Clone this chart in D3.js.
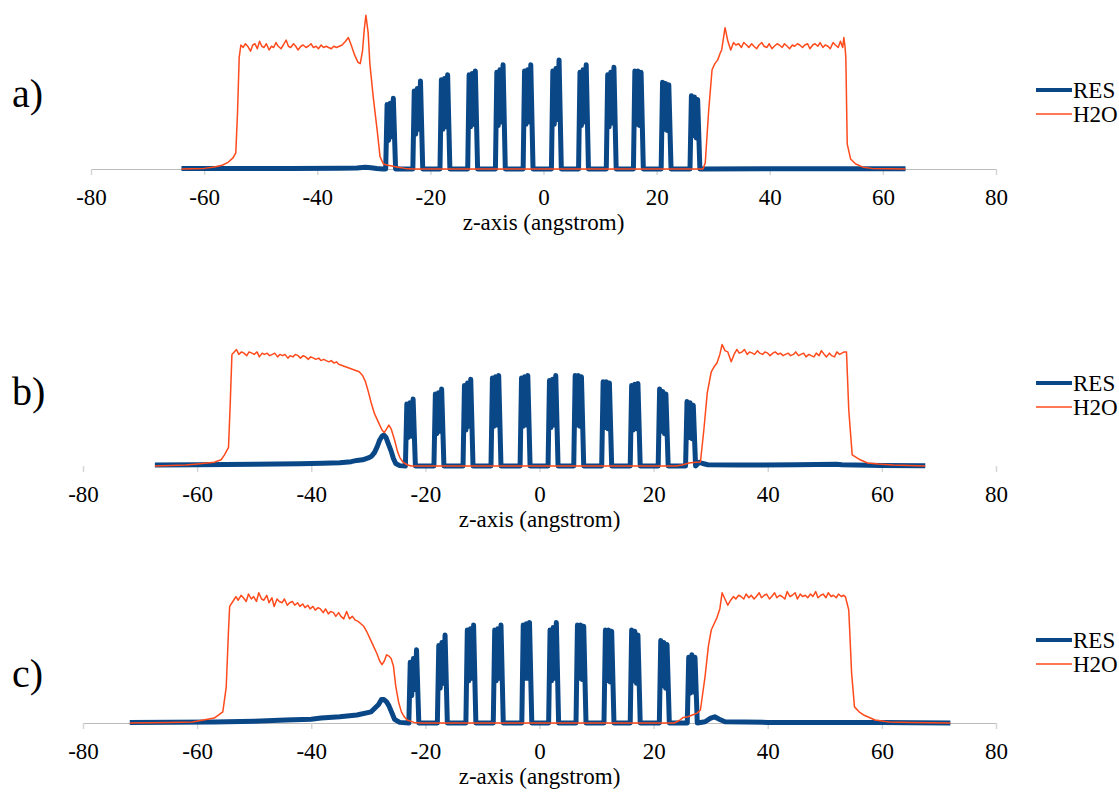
<!DOCTYPE html>
<html>
<head>
<meta charset="utf-8">
<script src="https://cdn.jsdelivr.net/npm/d3@7"></script>
<style>
    body { margin: 0; background: #ffffff; }
    svg text { fill: #000000; }
</style>
</head>
<body>
<div id="chart"></div>
<script>
// Tick values and labels
const zTicks = [-80, -60, -40, -20, 0, 20, 40, 60, 80];
const seriesNames = ['RES', 'H2O'];
const panelNames = ['a)', 'b)', 'c)'];
const axisTitle = 'z-axis (angstrom)';
const serifFont = 'Liberation Serif, serif';

// Density profiles: [z (angstrom), relative density]
// a)
const resA = [
    [-64, 0.004], [-45, 0.004], [-36, 0.006], [-33, 0.008], [-31.5, 0.014], [-30.5, 0.01], [-29.5, 0.004], [-28.4, 0],
    [-27.9, 0], [-27.65, 0.52], [-27.4, 0.23], [-27.1, 0.53], [-26.8, 0.26], [-26.55, 0.57], [-26.15, 0],
    [-23.1, 0], [-22.85, 0.63], [-22.6, 0.28], [-22.3, 0.65], [-22.0, 0.32], [-21.75, 0.71], [-21.35, 0],
    [-18.3, 0], [-18.05, 0.72], [-17.8, 0.32], [-17.5, 0.73], [-17.2, 0.34], [-16.95, 0.76], [-16.55, 0],
    [-13.4, 0], [-13.15, 0.76], [-12.9, 0.34], [-12.6, 0.77], [-12.3, 0.36], [-12.05, 0.79], [-11.65, 0],
    [-8.5, 0], [-8.25, 0.78], [-8.0, 0.35], [-7.7, 0.80], [-7.4, 0.38], [-7.15, 0.84], [-6.75, 0],
    [-3.6, 0], [-3.35, 0.79], [-3.1, 0.36], [-2.8, 0.80], [-2.5, 0.38], [-2.25, 0.84], [-1.85, 0],
    [1.4, 0], [1.65, 0.79], [1.9, 0.36], [2.2, 0.81], [2.5, 0.40], [2.75, 0.88], [3.15, 0],
    [6.2, 0], [6.45, 0.78], [6.7, 0.35], [7.0, 0.80], [7.3, 0.38], [7.55, 0.84], [7.95, 0],
    [11.1, 0], [11.35, 0.76], [11.6, 0.34], [11.9, 0.78], [12.2, 0.37], [12.45, 0.82], [12.85, 0],
    [15.9, 0], [16.15, 0.79], [16.4, 0.36], [16.7, 0.79], [17.0, 0.35], [17.25, 0.78], [17.65, 0],
    [20.8, 0], [21.05, 0.70], [21.3, 0.32], [21.6, 0.69], [21.9, 0.31], [22.15, 0.68], [22.55, 0],
    [25.9, 0], [26.15, 0.59], [26.4, 0.27], [26.7, 0.58], [27.0, 0.25], [27.25, 0.56], [27.65, 0],
    [40, 0.003], [64, 0.003]
];
const h2oA = [
    [-64, 0], [-60, 0.005], [-58.2, 0.016], [-56.8, 0.03], [-55.7, 0.056], [-54.9, 0.09], [-54.4, 0.13], [-54.1, 0.45], [-53.8, 0.9], [-53.5, 1.0],
    [-53.1, 0.98], [-52.7, 1.01], [-52.3, 0.99], [-51.8, 0.95], [-51.4, 1.00], [-51.0, 1.01], [-50.6, 0.97], [-50.2, 1.03], [-49.8, 0.99], [-49.4, 0.98],
    [-49.0, 1.01], [-48.5, 0.96], [-48.1, 0.99], [-47.7, 0.98], [-47.3, 1.02], [-46.9, 0.99], [-46.4, 0.97], [-46.0, 1.00], [-45.5, 1.04], [-45.1, 0.99],
    [-44.7, 0.98], [-44.2, 1.01], [-43.8, 0.99], [-43.4, 0.96], [-42.9, 0.99], [-42.5, 1.00], [-42.0, 0.98], [-41.6, 0.99], [-41.1, 1.01], [-40.7, 0.98],
    [-40.2, 0.99], [-39.8, 0.97], [-39.3, 1.00], [-38.9, 0.98], [-38.4, 0.99], [-38.0, 0.98], [-37.5, 0.97], [-37.1, 0.99], [-36.6, 0.98], [-36.1, 0.99],
    [-35.6, 1.00], [-35.0, 1.03], [-34.5, 1.06], [-34.0, 1.00], [-33.4, 0.92], [-32.8, 0.86], [-32.4, 0.85], [-32.0, 0.95], [-31.7, 1.12], [-31.4, 1.24],
    [-31.0, 1.10], [-30.7, 0.85], [-30.1, 0.58], [-29.4, 0.31], [-28.9, 0.10], [-28.3, 0.04], [-27.5, 0.03], [-25.7, 0.015], [-24.5, 0.005], [-23.2, 0],
    [28.2, 0], [28.6, 0.05], [29.2, 0.47], [29.8, 0.80], [30.3, 0.85], [30.8, 0.88], [31.2, 0.93], [31.5, 0.96], [32.1, 1.14], [32.6, 1.03],
    [33.1, 0.96], [33.6, 1.02], [34.0, 1.00], [34.5, 1.01], [35.0, 0.98], [35.4, 1.02], [35.9, 1.00], [36.3, 0.98], [36.8, 1.01], [37.2, 0.99],
    [37.7, 0.97], [38.1, 1.00], [38.6, 1.02], [39.0, 0.99], [39.5, 0.98], [39.9, 1.01], [40.4, 0.97], [40.8, 0.99], [41.3, 1.01], [41.7, 1.00],
    [42.2, 0.98], [42.6, 1.01], [43.1, 0.99], [43.5, 0.97], [44.0, 1.00], [44.4, 0.99], [44.9, 1.01], [45.3, 1.00], [45.8, 0.98], [46.2, 1.00],
    [46.7, 1.01], [47.1, 0.97], [47.6, 1.00], [48.0, 1.01], [48.5, 0.99], [48.9, 1.02], [49.4, 0.98], [49.8, 1.00], [50.3, 0.99], [50.7, 0.97],
    [51.2, 1.02], [51.6, 1.00], [52.1, 0.98], [52.5, 1.03], [52.9, 0.98], [53.1, 1.06], [53.3, 0.99], [53.45, 0.9], [53.7, 0.2], [54.3, 0.08],
    [55.2, 0.04], [56.5, 0.015], [58, 0.005], [64, 0]
];

// b)
const resB = [
    [-67.4, 0.008], [-60, 0.01], [-50, 0.014], [-42, 0.018], [-38, 0.022], [-35, 0.026], [-33, 0.035], [-32, 0.045], [-31, 0.05], [-30.0, 0.065],
    [-29.4, 0.08], [-28.9, 0.11], [-28.4, 0.16], [-28.0, 0.21], [-27.6, 0.24], [-27.3, 0.25], [-26.9, 0.23], [-26.5, 0.18], [-26.0, 0.12], [-25.6, 0.06],
    [-25.2, 0.02], [-24.5, 0.003],
    [-23.5, 0], [-23.25, 0.50], [-23.0, 0.23], [-22.7, 0.51], [-22.4, 0.24], [-22.15, 0.54], [-21.75, 0],
    [-18.5, 0], [-18.25, 0.58], [-18.0, 0.26], [-17.7, 0.59], [-17.4, 0.28], [-17.15, 0.62], [-16.75, 0],
    [-13.4, 0], [-13.15, 0.65], [-12.9, 0.29], [-12.6, 0.67], [-12.3, 0.32], [-12.05, 0.70], [-11.65, 0],
    [-8.5, 0], [-8.25, 0.71], [-8.0, 0.32], [-7.7, 0.72], [-7.4, 0.33], [-7.15, 0.73], [-6.75, 0],
    [-3.4, 0], [-3.15, 0.71], [-2.9, 0.32], [-2.6, 0.72], [-2.3, 0.33], [-2.05, 0.73], [-1.65, 0],
    [1.5, 0], [1.75, 0.69], [2.0, 0.31], [2.3, 0.70], [2.6, 0.33], [2.85, 0.73], [3.25, 0],
    [6.0, 0], [6.25, 0.73], [6.5, 0.33], [6.8, 0.73], [7.1, 0.32], [7.35, 0.72], [7.75, 0],
    [10.9, 0], [11.15, 0.68], [11.4, 0.31], [11.7, 0.68], [12.0, 0.30], [12.25, 0.67], [12.65, 0],
    [15.9, 0], [16.15, 0.65], [16.4, 0.29], [16.7, 0.66], [17.0, 0.30], [17.25, 0.665], [17.65, 0],
    [20.8, 0], [21.05, 0.62], [21.3, 0.28], [21.6, 0.60], [21.9, 0.26], [22.15, 0.58], [22.55, 0],
    [25.6, 0], [25.85, 0.52], [26.1, 0.23], [26.4, 0.51], [26.7, 0.22], [26.95, 0.49], [27.35, 0],
    [28.0, 0.03], [28.6, 0.02], [29.5, 0.01], [35, 0.008], [45, 0.01], [52, 0.015], [53, 0.01], [60, 0.005], [67.6, 0.003]
];
const h2oB = [
    [-67.4, 0], [-62, 0.008], [-59.9, 0.016], [-57, 0.03], [-55.8, 0.05], [-55.2, 0.09], [-54.5, 0.15], [-54.2, 0.5], [-53.9, 0.9], [-53.5, 0.92],
    [-53.1, 0.94], [-52.7, 0.90], [-52.2, 0.92], [-51.8, 0.91], [-51.3, 0.89], [-50.9, 0.92], [-50.4, 0.91], [-50.0, 0.90], [-49.5, 0.92], [-49.1, 0.88],
    [-48.6, 0.91], [-48.2, 0.90], [-47.7, 0.91], [-47.3, 0.89], [-46.8, 0.90], [-46.4, 0.91], [-45.9, 0.88], [-45.5, 0.90], [-45.0, 0.89], [-44.6, 0.90],
    [-44.1, 0.87], [-43.7, 0.89], [-43.2, 0.88], [-42.8, 0.90], [-42.3, 0.89], [-41.9, 0.87], [-41.4, 0.89], [-41.0, 0.88], [-40.5, 0.86], [-40.1, 0.88],
    [-39.6, 0.87], [-39.2, 0.86], [-38.7, 0.87], [-38.3, 0.85], [-37.8, 0.86], [-37.4, 0.85], [-36.9, 0.84], [-36.5, 0.85], [-36.0, 0.83], [-35.6, 0.84],
    [-35.2, 0.82], [-34.6, 0.81], [-34.0, 0.80], [-33.4, 0.79], [-32.8, 0.78], [-32.2, 0.77], [-31.6, 0.76], [-31.0, 0.73], [-30.5, 0.68], [-30.0, 0.60],
    [-29.5, 0.51], [-28.9, 0.42], [-28.2, 0.35], [-27.6, 0.29], [-27.2, 0.27], [-26.8, 0.30], [-26.4, 0.33], [-26.0, 0.30], [-25.4, 0.21], [-24.9, 0.12],
    [-24.5, 0.07], [-23.9, 0.03], [-23.2, 0.01], [-22.5, 0],
    [23.9, 0], [25, 0.008], [26.2, 0.024], [27.4, 0.03], [28.2, 0.032], [28.8, 0.29], [29.4, 0.59], [30.1, 0.76], [30.6, 0.80], [31.1, 0.83],
    [31.6, 0.90], [32.0, 0.98], [32.5, 0.93], [33.0, 0.92], [33.6, 0.84], [34.1, 0.90], [34.6, 0.94], [35.0, 0.91], [35.5, 0.92], [35.9, 0.94],
    [36.4, 0.90], [36.8, 0.92], [37.3, 0.91], [37.7, 0.90], [38.2, 0.93], [38.6, 0.91], [39.1, 0.90], [39.5, 0.92], [40.0, 0.91], [40.4, 0.89],
    [40.9, 0.91], [41.3, 0.92], [41.8, 0.90], [42.2, 0.91], [42.7, 0.89], [43.1, 0.90], [43.6, 0.91], [44.0, 0.89], [44.5, 0.90], [44.9, 0.92],
    [45.4, 0.89], [45.8, 0.90], [46.3, 0.91], [46.7, 0.88], [47.2, 0.90], [47.6, 0.89], [48.1, 0.88], [48.5, 0.91], [49.0, 0.89], [49.4, 0.93],
    [49.9, 0.90], [50.3, 0.88], [50.8, 0.91], [51.2, 0.89], [51.7, 0.88], [52.1, 0.92], [52.6, 0.90], [53.0, 0.91], [53.4, 0.92], [53.8, 0.92],
    [54.2, 0.45], [54.8, 0.09], [56.2, 0.05], [57.5, 0.024], [59.4, 0.016], [62, 0.008], [67.6, 0]
];

// c)
const resC = [
    [-71.8, 0.005], [-57, 0.008], [-50, 0.015], [-44.5, 0.025], [-40, 0.03], [-38.3, 0.04], [-35, 0.05], [-32, 0.065], [-29.5, 0.09], [-28.2, 0.15],
    [-27.7, 0.19], [-27.3, 0.19], [-26.8, 0.17], [-26.4, 0.14], [-25.4, 0.03], [-24.5, 0.005],
    [-22.9, 0], [-22.65, 0.49], [-22.4, 0.22], [-22.1, 0.52], [-21.8, 0.27], [-21.55, 0.59], [-21.15, 0],
    [-17.9, 0], [-17.65, 0.625], [-17.4, 0.28], [-17.1, 0.65], [-16.8, 0.32], [-16.55, 0.71], [-16.15, 0],
    [-12.9, 0], [-12.65, 0.75], [-12.4, 0.34], [-12.1, 0.76], [-11.8, 0.36], [-11.55, 0.79], [-11.15, 0],
    [-8.1, 0], [-7.85, 0.75], [-7.6, 0.34], [-7.3, 0.76], [-7.0, 0.36], [-6.75, 0.79], [-6.35, 0],
    [-3.1, 0], [-2.85, 0.79], [-2.6, 0.36], [-2.3, 0.80], [-2.0, 0.36], [-1.75, 0.81], [-1.35, 0],
    [1.6, 0], [1.85, 0.75], [2.1, 0.34], [2.4, 0.77], [2.7, 0.36], [2.95, 0.81], [3.35, 0],
    [6.4, 0], [6.65, 0.79], [6.9, 0.36], [7.2, 0.79], [7.5, 0.35], [7.75, 0.78], [8.15, 0],
    [11.3, 0], [11.55, 0.75], [11.8, 0.34], [12.1, 0.75], [12.4, 0.33], [12.65, 0.74], [13.05, 0],
    [15.9, 0], [16.15, 0.75], [16.4, 0.34], [16.7, 0.74], [17.0, 0.32], [17.25, 0.71], [17.65, 0],
    [21.0, 0], [21.25, 0.665], [21.5, 0.30], [21.8, 0.65], [22.1, 0.28], [22.35, 0.633], [22.75, 0],
    [25.9, 0], [26.15, 0.53], [26.4, 0.24], [26.7, 0.55], [27.0, 0.25], [27.25, 0.53], [27.65, 0],
    [29.0, 0.01], [30.0, 0.04], [30.7, 0.05], [31.5, 0.03], [32.5, 0.01], [40, 0.005], [60, 0.005], [72, 0]
];
const h2oC = [
    [-71.8, 0], [-65, 0.005], [-60.8, 0.008], [-57, 0.04], [-55.5, 0.09], [-54.9, 0.29], [-54.5, 0.75], [-54.3, 0.94], [-53.6, 0.99],
    [-53.2, 1.02], [-52.8, 0.99], [-52.3, 1.03], [-51.9, 1.01], [-51.4, 0.98], [-51.0, 1.04], [-50.5, 1.00], [-50.1, 1.02], [-49.6, 0.98], [-49.2, 1.05],
    [-48.7, 1.00], [-48.3, 0.99], [-47.8, 1.03], [-47.4, 0.97], [-46.9, 1.01], [-46.5, 0.94], [-46.0, 1.00], [-45.6, 0.98], [-45.1, 0.97], [-44.7, 1.00],
    [-44.2, 0.95], [-43.8, 0.97], [-43.3, 0.98], [-42.9, 0.95], [-42.4, 0.97], [-42.0, 0.94], [-41.5, 0.96], [-41.1, 0.93], [-40.6, 0.95], [-40.2, 0.92],
    [-39.7, 0.94], [-39.3, 0.91], [-38.8, 0.93], [-38.4, 0.92], [-37.9, 0.89], [-37.5, 0.92], [-37.0, 0.88], [-36.6, 0.90], [-36.1, 0.89], [-35.7, 0.86],
    [-35.2, 0.89], [-34.8, 0.86], [-34.3, 0.84], [-33.8, 0.90], [-33.3, 0.84], [-32.8, 0.86], [-32.3, 0.83], [-31.8, 0.82], [-31.3, 0.80], [-30.8, 0.78],
    [-30.2, 0.73], [-29.6, 0.67], [-29.0, 0.61], [-28.5, 0.56], [-28.0, 0.50], [-27.6, 0.47], [-27.2, 0.50], [-26.8, 0.55], [-26.4, 0.54], [-26.0, 0.52],
    [-25.6, 0.46], [-25.2, 0.30], [-24.7, 0.17], [-24.2, 0.09], [-23.7, 0.05], [-23.2, 0.024], [-22.0, 0.005], [-20.8, 0],
    [23.6, 0], [24.5, 0.02], [25.2, 0.045], [26.0, 0.05], [26.8, 0.065], [27.6, 0.08], [28.2, 0.105], [29.0, 0.37], [29.6, 0.62], [30.1, 0.75],
    [30.6, 0.80], [31.1, 0.85], [31.6, 0.92], [32.0, 1.05], [32.5, 1.00], [33.0, 0.95], [33.5, 0.99], [34.0, 1.02], [34.4, 1.00], [34.9, 1.03],
    [35.3, 1.02], [35.8, 1.00], [36.2, 1.04], [36.7, 1.01], [37.1, 1.03], [37.6, 1.00], [38.0, 1.02], [38.5, 1.05], [38.9, 1.01], [39.4, 1.03],
    [39.8, 1.04], [40.3, 1.00], [40.7, 1.02], [41.2, 1.05], [41.6, 1.01], [42.1, 1.03], [42.5, 1.02], [43.0, 1.00], [43.4, 1.06], [43.9, 1.02],
    [44.3, 1.03], [44.8, 1.05], [45.2, 1.00], [45.7, 1.04], [46.1, 1.02], [46.6, 1.03], [47.0, 1.01], [47.5, 1.04], [47.9, 1.02], [48.4, 1.06],
    [48.8, 1.01], [49.3, 1.03], [49.7, 1.04], [50.2, 1.01], [50.6, 1.05], [51.1, 1.02], [51.5, 1.03], [52.0, 1.01], [52.4, 1.04], [52.9, 1.02],
    [53.3, 1.03], [53.6, 1.02], [54.2, 0.91], [54.7, 0.4], [55.2, 0.13], [56.0, 0.09], [56.8, 0.065], [58.8, 0.024], [61.3, 0.008], [65, 0.005],
    [72, 0]
];

// Colors
const resColor = '#0a4787';
const h2oColor = '#ff4a1c';

// Frame
const width = 1119;
const height = 793;
const pxPerUnit = 124;

const panels = [
    { name: panelNames[0], res: resA, h2o: h2oA, left: 91, right: 996, base: 169, axisLine: true, labelY: 107, legendY: 90 },
    { name: panelNames[1], res: resB, h2o: h2oB, left: 83, right: 996, base: 466, axisLine: false, labelY: 405, legendY: 383 },
    { name: panelNames[2], res: resC, h2o: h2oC, left: 83, right: 996, base: 723, axisLine: true, labelY: 687, legendY: 640 }
];

const svg = d3.select('#chart')
    .append('svg')
    .attr('width', width)
    .attr('height', height);

panels.forEach(p => {
    const g = svg.append('g');

    // Scales
    const x = d3.scaleLinear()
        .domain([zTicks[0], zTicks[zTicks.length - 1]])
        .range([p.left, p.right]);

    const y = d3.scaleLinear()
        .domain([0, 1])
        .range([p.base, p.base - pxPerUnit]);

    // x axis
    const xAxis = d3.axisBottom(x)
        .tickValues(zTicks)
        .tickSize(6)
        .tickSizeOuter(0)
        .tickFormat(d => String(d));

    const xAxisGroup = g.append('g')
        .attr('transform', `translate(0, ${p.base})`)
        .call(xAxis);

    xAxisGroup.select('.domain')
        .attr('stroke', p.axisLine ? '#bcbcbc' : 'none');
    xAxisGroup.selectAll('.tick line')
        .attr('stroke', '#d6d6d6')
        .attr('stroke-width', 1.5);
    xAxisGroup.selectAll('.tick text')
        .attr('y', 36)
        .attr('dy', null)
        .style('font-family', serifFont)
        .style('font-size', '23px')
        .attr('fill', '#000');

    // Axis title
    g.append('text')
        .attr('x', (p.left + p.right) / 2)
        .attr('y', p.base + 61)
        .attr('text-anchor', 'middle')
        .style('font-family', serifFont)
        .style('font-size', '23px')
        .text(axisTitle);

    // Lines
    const line = d3.line()
        .x(d => x(d[0]))
        .y(d => y(d[1]));

    g.append('path')
        .datum(p.res)
        .attr('fill', 'none')
        .attr('stroke', resColor)
        .attr('stroke-width', 5)
        .attr('stroke-linejoin', 'round')
        .attr('d', line);

    g.append('path')
        .datum(p.h2o)
        .attr('fill', 'none')
        .attr('stroke', h2oColor)
        .attr('stroke-width', 1.5)
        .attr('stroke-linejoin', 'round')
        .attr('d', line);

    // Panel label
    g.append('text')
        .attr('x', 12)
        .attr('y', p.labelY)
        .style('font-family', serifFont)
        .style('font-size', '40px')
        .text(p.name);

    // Legend
    const legend = g.selectAll('.legend')
        .data(seriesNames)
        .enter()
        .append('g')
        .attr('class', 'legend')
        .attr('transform', (d, i) => `translate(1036, ${p.legendY + i * 24})`);

    legend.append('line')
        .attr('x1', 0)
        .attr('x2', 36)
        .attr('stroke', (d, i) => i === 0 ? resColor : h2oColor)
        .attr('stroke-width', (d, i) => i === 0 ? 4 : 1.6);

    legend.append('text')
        .attr('x', 37)
        .attr('y', 8)
        .style('font-family', serifFont)
        .style('font-size', '23px')
        .text(d => d);
});
</script>
</body>
</html>
